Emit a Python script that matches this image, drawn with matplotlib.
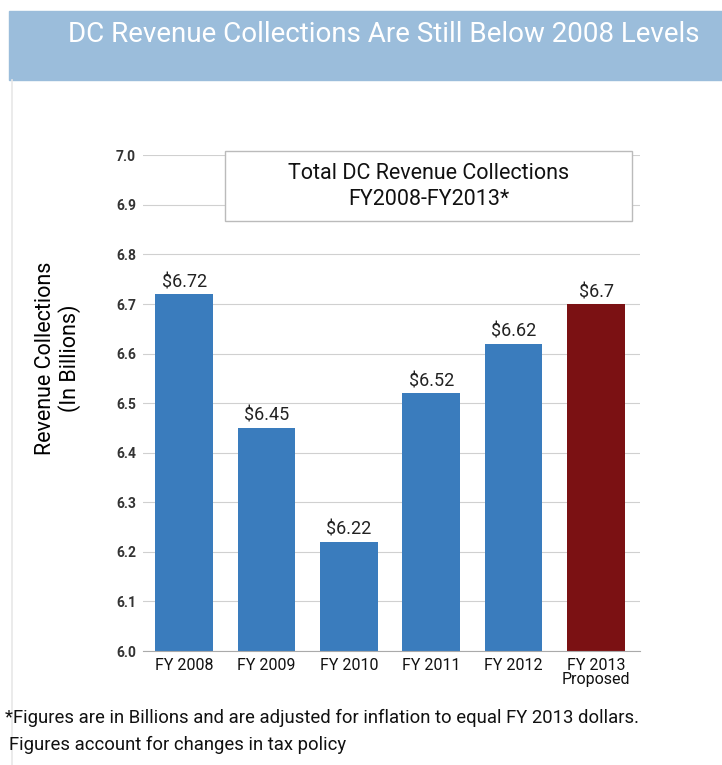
import matplotlib
matplotlib.use('Agg')
import matplotlib.pyplot as plt
from matplotlib.patches import Rectangle

plt.rcParams['font.family'] = ['Roboto', 'DejaVu Sans']

years = ['FY 2008', 'FY 2009', 'FY 2010', 'FY 2011', 'FY 2012', 'FY 2013\nProposed']
revenue = [6.72, 6.45, 6.22, 6.52, 6.62, 6.70]
labels = ['$6.72', '$6.45', '$6.22', '$6.52', '$6.62', '$6.7']
colors = ['#3a7cbd'] * 5 + ['#7b1113']
yticks = [6.0, 6.1, 6.2, 6.3, 6.4, 6.5, 6.6, 6.7, 6.8, 6.9, 7.0]

fig = plt.figure(figsize=(7.22, 7.65), dpi=100)

# header band
fig.patches.append(Rectangle((0.012, 0.895), 0.988, 0.09, transform=fig.transFigure,
                             color='#9bbddb', zorder=0))
fig.text(0.532, 0.955, 'DC Revenue Collections Are Still Below 2008 Levels', ha='center', va='center',
         color='white', fontsize=20)
# faint frame line on the left
fig.add_artist(plt.Line2D([0.016, 0.016], [0.0, 0.895], transform=fig.transFigure,
                          color='#e8e8e8', lw=1.2))

ax = fig.add_axes([0.198, 0.149, 0.688, 0.648])
x = range(len(years))
ax.bar(x, [v - 6.0 for v in revenue], bottom=6.0, width=0.7, color=colors, zorder=2)
for i, (v, t) in enumerate(zip(revenue, labels)):
    ax.text(i, v + 0.006, t, ha='center', va='bottom', fontsize=13, color='#222222')

ax.set_ylim(6.0, 7.0)
ax.set_xlim(-0.5, 5.53)
ax.set_yticks(yticks)
ax.set_yticklabels([f'{t:.1f}' for t in yticks], fontsize=10, fontweight='bold', color='#333333')
ax.set_xticks(list(x))
ax.set_xticklabels(years, fontsize=11.5, color='#111111', linespacing=0.95)
ax.tick_params(length=0, pad=5)
ax.grid(axis='y', color='#d0d0d0', linewidth=0.8, zorder=0)
for s in ['top', 'right', 'left']:
    ax.spines[s].set_visible(False)
ax.spines['bottom'].set_color('#aaaaaa')
ax.set_ylabel('Revenue Collections\n(In Billions)', fontsize=15.5, linespacing=1.1)
ax.yaxis.set_label_coords(-0.125, 0.59)

# chart title box
ax.add_patch(Rectangle((0.165, 0.867), 0.819, 0.141, transform=ax.transAxes, fc='white',
                       ec='#bbbbbb', lw=1.0, zorder=5, clip_on=False))
ax.text(0.575, 0.937, 'Total DC Revenue Collections\nFY2008-FY2013*', transform=ax.transAxes,
        ha='center', va='center', fontsize=15.5, linespacing=1.3, color='#111111', zorder=6)

fig.text(0.007, 0.062, '*Figures are in Billions and are adjusted for inflation to equal FY 2013 dollars.',
         fontsize=13.3, va='center', color='#111111')
fig.text(0.012, 0.026, 'Figures account for changes in tax policy', fontsize=13.3, va='center', color='#111111')

fig.savefig('out.png', dpi=100)
